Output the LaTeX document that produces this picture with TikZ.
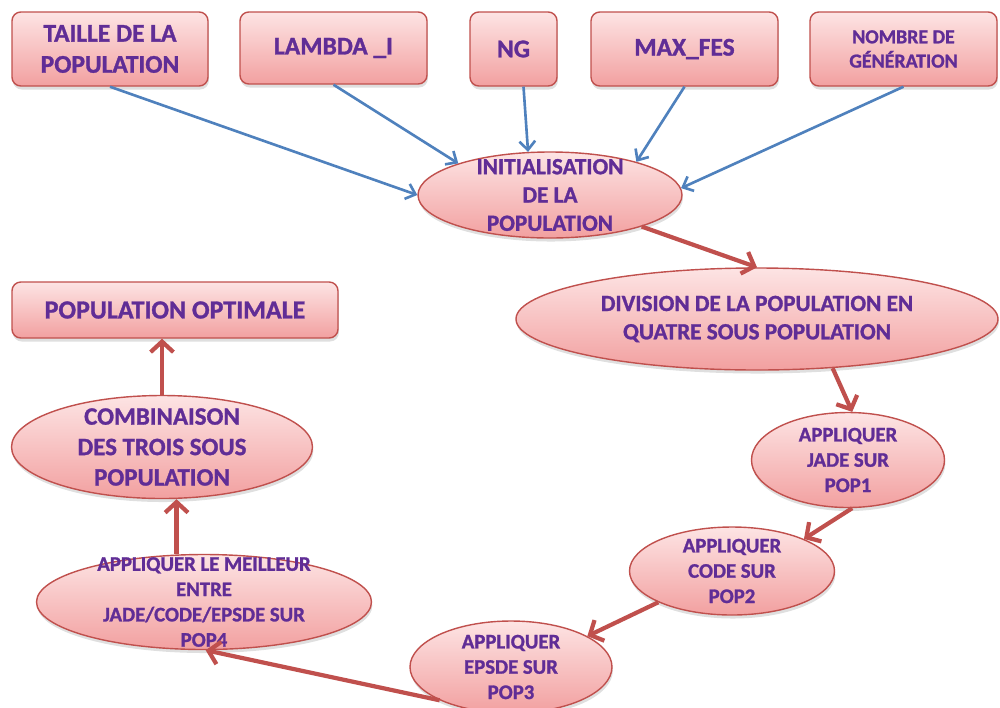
\documentclass[tikz,border=0pt]{standalone}
\usepackage{fontspec}
\setmainfont{Carlito}[BoldFeatures={FakeBold=1.2}]
\usetikzlibrary{shapes.geometric,arrows.meta,shadows}

\definecolor{edgered}{RGB}{192,80,77}
\definecolor{pinktop}{RGB}{253,228,228}
\definecolor{pinkbot}{RGB}{242,160,160}
\definecolor{txtpurple}{RGB}{96,45,150}
\definecolor{inblue}{RGB}{79,129,189}

\def\u{0.02cm}

\tikzset{
  shape base/.style={draw=edgered, line width=0.8pt, top color=pinktop, bottom color=pinkbot,
    inner sep=0pt, drop shadow={opacity=0.25, shadow xshift=0.5pt, shadow yshift=-2pt}},
  parambox/.style={shape base, rectangle, rounded corners=5pt},
  stepell/.style={shape base, ellipse},
  lbl/.style={text=txtpurple, align=center, font=\bfseries\fontsize{#1}{\fpeval{#1*1.22}}\selectfont},
  lbl/.default=14.5,
  inarrow/.style={draw=inblue, line width=1.5pt, -{Straight Barb[length=5pt,width=9pt]}},
  flowarrow/.style={draw=edgered, line width=2.4pt, -{Straight Barb[length=6pt,width=13pt]}}
}

\begin{document}
\begin{tikzpicture}[x=0.02cm,y=-0.02cm]
\useasboundingbox (0,0) rectangle (1000,707);

% parameter boxes along the top
\node[parambox, minimum width={196*\u}, minimum height={74*\u}] (t1) at (110,49) {};
\node[lbl] (t1t) at (t1) {TAILLE DE LA\\POPULATION};
\node[parambox, minimum width={187*\u}, minimum height={72*\u}] (t2) at (333.5,48) {};
\node[lbl] (t2t) at (t2) {LAMBDA \_I};
\node[parambox, minimum width={87*\u}, minimum height={74*\u}] (t3) at (513.5,49) {};
\node[lbl] (t3t) at (t3) {NG};
\node[parambox, minimum width={187*\u}, minimum height={74*\u}] (t4) at (684.5,49) {};
\node[lbl] (t4t) at (t4) {MAX\_FES};
\node[parambox, minimum width={187*\u}, minimum height={74*\u}] (t5) at (903.5,49) {};
\node[lbl=11.3] (t5t) at (t5) {NOMBRE DE\\GÉNÉRATION};

% processing steps
\node[stepell, minimum width={264*\u}, minimum height={86*\u}] (init) at (550,195) {};
\node[lbl=13.2] (initt) at (init) {INITIALISATION\\DE LA\\POPULATION};

\node[stepell, minimum width={482*\u}, minimum height={102*\u}] (div) at (757,319) {};
\node[lbl=13.2] (divt) at (div) {DIVISION DE LA POPULATION  EN\\QUATRE SOUS  POPULATION};

\node[stepell, minimum width={193*\u}, minimum height={95*\u}] (jade) at (848,460) {};
\node[lbl=11.8] (jadet) at (jade) {APPLIQUER\\JADE SUR\\POP1};

\node[stepell, minimum width={205*\u}, minimum height={88*\u}] (code) at (732,571) {};
\node[lbl=11.8] (codet) at (code) {APPLIQUER\\CODE SUR\\POP2};

\node[stepell, minimum width={202*\u}, minimum height={92*\u}] (epsde) at (511,667) {};
\node[lbl=11.8] (epsdet) at (epsde) {APPLIQUER\\EPSDE SUR\\POP3};

\node[stepell, minimum width={335*\u}, minimum height={95*\u}] (pop4) at (204,602) {};
\node[lbl=11.8] (pop4t) at (pop4) {APPLIQUER  LE MEILLEUR\\ENTRE\\JADE/CODE/EPSDE SUR\\POP4};

\node[stepell, minimum width={301*\u}, minimum height={103*\u}] (comb) at (162,447) {};
\node[lbl=14.2] (combt) at (comb) {COMBINAISON\\DES TROIS SOUS\\POPULATION};

\node[parambox, minimum width={326*\u}, minimum height={56*\u}] (opt) at (175,310) {};
\node[lbl=14.8] (optt) at (opt) {POPULATION OPTIMALE};

% parameter inputs
\draw[inarrow] (t1.south) -- (init.180);
\draw[inarrow] (t2.south) -- (init.161);
\draw[inarrow] ([xshift=10*\u]t3.south) -- (init.117);
\draw[inarrow] (t4.south) -- (init.21);
\draw[inarrow] (t5.south) -- (init.3);

% flow between steps
\draw[flowarrow] (init.-19) -- (div.north);
\draw[flowarrow] (div.-33) -- (jade.85);
\draw[flowarrow] (jade.-85) -- (code.24);
\draw[flowarrow] (code.203) -- (epsde.22);
\draw[flowarrow] (epsde.205) -- (pop4.-88);
\draw[flowarrow] (pop4.120) -- (pop4.120 |- comb.south);
\draw[flowarrow] (comb.north) -- (comb.north |- opt.south);
\end{tikzpicture}
\end{document}
